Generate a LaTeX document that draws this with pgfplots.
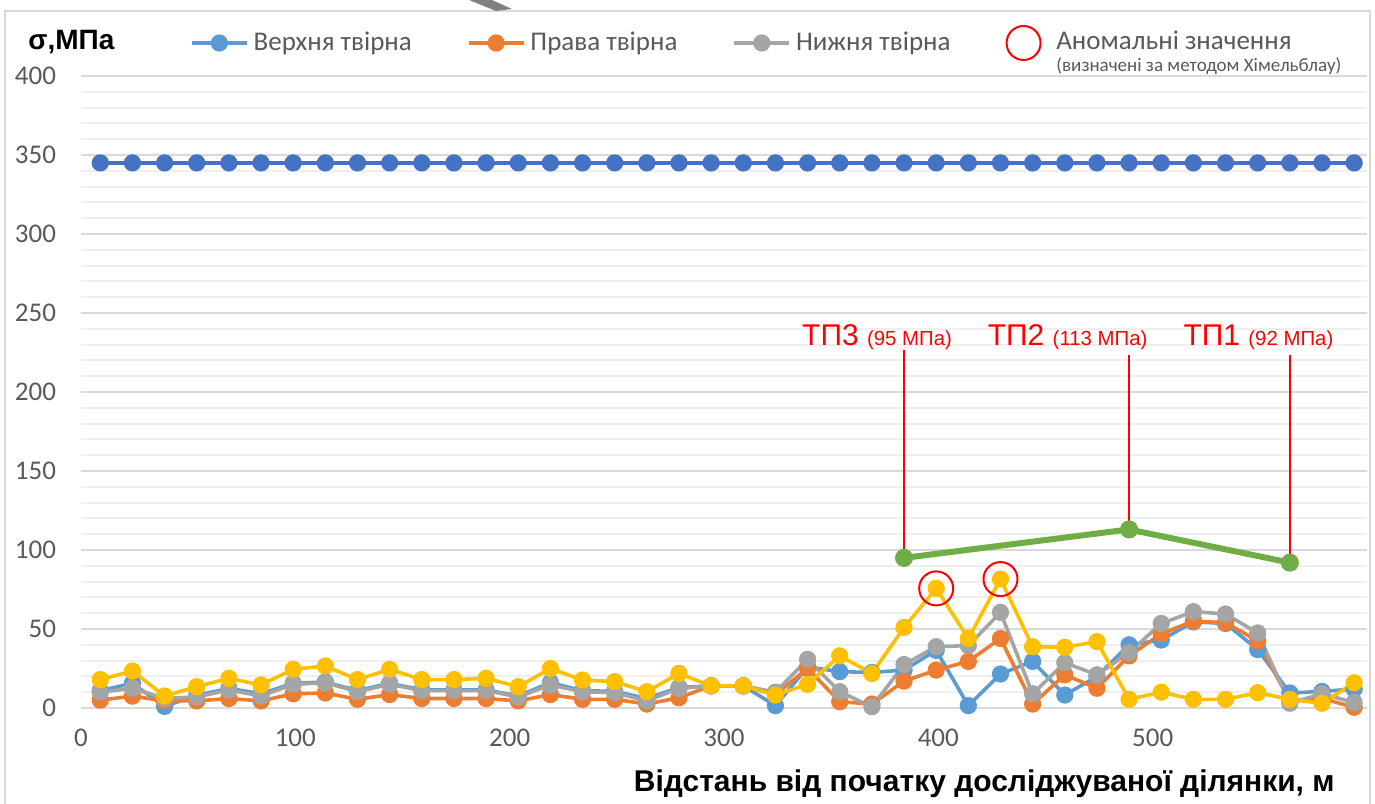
\documentclass[border=0pt]{standalone}
\usepackage{pgfplots}
\pgfplotsset{compat=1.18}
\usepackage{pgfplotstable}
\usepackage{fontspec}
\setmainfont{Carlito}
\newfontfamily\arialfont{Liberation Sans}
\definecolor{blueL}{HTML}{5B9BD5}
\definecolor{blueD}{HTML}{4472C4}
\definecolor{orng}{HTML}{ED7D31}
\definecolor{gry}{HTML}{A5A5A5}
\definecolor{yel}{HTML}{FFC000}
\definecolor{grn}{HTML}{70AD47}
\definecolor{tgray}{HTML}{595959}
\definecolor{gmaj}{HTML}{D9D9D9}
\definecolor{gmin}{HTML}{EFEFEF}
\pgfplotstableread{
x   B     O     G     Y     D
9   11    5     10    18    345
24  15.6  7.5   12.5  23.4  345
39  1     4.5   6     7.6   345
54  8     4.5   7     13.5  345
69  12.4  6     11.4  18.8  345
84  9     4.5   7.6   14.6  345
99  15.6  9     15    24.5  345
114 16.5  9.5   16    26.6  345
129 11    5.5   10.3  18    345
144 15.6  8.5   15    24.5  345
159 11.5  6     11    18    345
174 11.5  6     11    18    345
189 11.5  6     11    18.8  345
204 7.6   4.5   7     13.5  345
219 16    8.5   14.6  25    345
234 11    5.5   10.3  17.7  345
249 10.5  5.5   9.7   16.7  345
264 6     2.5   4.5   10.3  345
279 13    6.5   12.4  21.9  345
294 14    14    14    14    345
309 14    14    14    14    345
324 1.5   8.5   10    8.2   345
339 26    25    30.8  15    345
354 23    4     10.3  33    345
369 22.5  2.5   0.8   21.8  345
384 24    17    27.5  51    345
399 36.5  24    38.8  75.7  345
414 1.5   29.5  39.5  44    345
429 21.5  44    60.5  81.6  345
444 29.5  2.5   9     38.8  345
459 8.2   21    28.7  38.5  345
474 20    12.5  21    42    345
489 40    33    35    5.5   345
504 43    47    53.5  10    345
519 54.5  55    61    5.5   345
534 53.5  54    59.5  5.5   345
549 37    42.5  47.5  9.7   345
564 9.5   4.5   3     5.5   345
579 10.5  6     9     3     345
594 12    0.5   3.5   16    345
}\datatable
\begin{document}
\begin{tikzpicture}
\useasboundingbox (-40.5pt,-47.5pt) rectangle (647pt,354pt);
\begin{axis}[
  at={(0pt,0pt)}, anchor=south west,
  scale only axis, width=643pt, height=316pt,
  xmin=0, xmax=600, ymin=0, ymax=400,
  xtick={0,100,...,500}, ytick={0,50,...,400},
  minor y tick num=4,
  ymajorgrids, yminorgrids,
  major grid style={gmaj, line width=1pt},
  minor grid style={gmin, line width=1pt},
  axis line style={draw=none},
  major tick length=0pt, minor tick length=0pt,
  clip=false,
  tick label style={font=\fontsize{13.5}{16}\selectfont, text=tgray, inner sep=0pt},
  /pgf/number format/assume math mode=true,
  yticklabel style={anchor=east, xshift=-12.3pt},
  xticklabel style={anchor=north, yshift=-10.3pt},
  every axis plot/.append style={line width=1.8pt, mark=*, mark size=3.4pt, mark options={solid}},
  legend image code/.code={\draw[mark repeat=2, mark phase=2, #1] plot coordinates {(0pt,0pt) (13.75pt,0pt) (27.5pt,0pt)};},
  legend style={draw=none, fill=none, inner sep=0pt, outer sep=0pt,
    at={(0.0848,1.0807)}, anchor=north west,
    font=\fontsize{13.5}{16}\selectfont, text=tgray,
    nodes={inner sep=0pt},
    /tikz/every even column/.append style={column sep=27.5pt},
    /tikz/every odd column/.append style={column sep=2.5pt}},
  legend columns=4,
]
\addplot[blueL] table[x=x, y=B] {\datatable};
\addlegendentry{Верхня твірна}
\addplot[orng] table[x=x, y=O] {\datatable};
\addlegendentry{Права твірна}
\addplot[gry] table[x=x, y=G] {\datatable};
\addlegendentry{Нижня твірна}
\addlegendimage{legend image code/.code={\draw[red, line width=1pt] (8.5pt,0pt) circle (8.5pt); \path (21.5pt,0pt);}}
\addlegendentry{\raisebox{3pt}{\begin{tabular}[t]{@{}l@{}}Аномальні значення\\[-5pt]{\fontsize{9.5}{11}\selectfont(визначені за методом Хімельблау)}\end{tabular}}}
\addplot[yel, forget plot] table[x=x, y=Y] {\datatable};
\addplot[blueD, forget plot] table[x=x, y=D] {\datatable};
\addplot[grn, line width=3pt, mark size=3pt, forget plot] coordinates {(384,95) (489,113) (564,92)};
\addplot[red, line width=1.1pt, mark=none, forget plot] coordinates {(384,95) (384,226.6)};
\addplot[red, line width=1.1pt, mark=none, forget plot] coordinates {(489,113) (489,223.4)};
\addplot[red, line width=1.1pt, mark=none, forget plot] coordinates {(564,92) (564,223.4)};
\addplot[red, line width=1pt, only marks, mark=o, mark size=8.5pt, forget plot] coordinates {(399,75.7) (429,81.6)};
\node[anchor=base west, text=red, inner sep=0pt, font=\arialfont\fontsize{15}{18}\selectfont] at (axis cs:336.3,229.7) {ТП3 {\fontsize{10.2}{12}\selectfont(95 МПа)}};
\node[anchor=base west, text=red, inner sep=0pt, font=\arialfont\fontsize{15}{18}\selectfont] at (axis cs:422.9,229.7) {ТП2 {\fontsize{10.2}{12}\selectfont(113 МПа)}};
\node[anchor=base west, text=red, inner sep=0pt, font=\arialfont\fontsize{15}{18}\selectfont] at (axis cs:514.2,229.7) {ТП1 {\fontsize{10.2}{12}\selectfont(92 МПа)}};
\end{axis}
\draw[gmaj, line width=1pt] (-38pt,-50pt) -- (-38pt,348.5pt) -- (644.5pt,348.5pt) -- (644.5pt,-50pt);
\fill[gray] (194pt,354pt) -- (205.5pt,354pt) -- (215.5pt,349.5pt) -- (207.5pt,348.5pt) -- cycle;
\node[anchor=base west, inner sep=0pt, font=\arialfont\bfseries\fontsize{14}{16}\selectfont] at (-26.5pt,329pt) {σ,МПа};
\node[anchor=base east, inner sep=0pt, font=\arialfont\bfseries\fontsize{15}{17}\selectfont] at (627pt,-41.5pt) {Відстань від початку досліджуваної ділянки, м};
\end{tikzpicture}
\end{document}
